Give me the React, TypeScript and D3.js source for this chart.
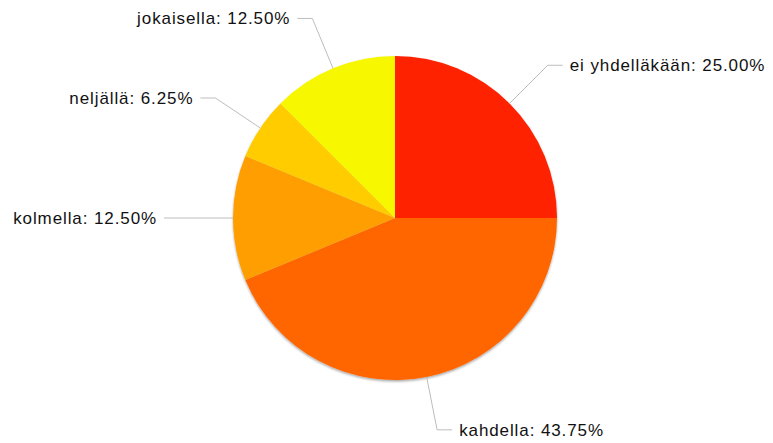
import React from "react";
import * as d3 from "d3";

const categories = ["ei yhdelläkään", "kahdella", "kolmella", "neljällä", "jokaisella"];
const values = [25.0, 43.75, 12.5, 6.25, 12.5];
const colors = ["#ff2200", "#ff6600", "#ff9e00", "#ffcc00", "#f7f700"];

const W = 773;
const H = 443;
const CX = 395;
const CY = 218;
const R = 162;
const LR = 216;
const HLEN = 15;
const GAP = 7;

export default function App() {
  const pie = d3.pie<number>().sort(null).value((d) => d)(values);
  const arc = d3.arc<d3.PieArcDatum<number>>().innerRadius(0).outerRadius(R);
  const total = d3.sum(values);

  return (
    <svg
      width={W}
      height={H}
      style={{ position: "absolute", left: 0, top: 0, background: "#fff" }}
      fontFamily="'Liberation Sans', Arial, sans-serif"
    >
      <defs>
        <filter id="sh" x="-10%" y="-10%" width="120%" height="125%">
          <feDropShadow dx="0" dy="1.5" stdDeviation="1.2" floodColor="#000" floodOpacity="0.35" />
        </filter>
      </defs>
      <g transform={`translate(${CX},${CY})`}>
        <g filter="url(#sh)">
          {pie.map((p, i) => (
            <path key={i} d={arc(p) || ""} fill={colors[i]} />
          ))}
        </g>
        {pie.map((p, i) => {
          const mid = (p.startAngle + p.endAngle) / 2;
          const sx = Math.sin(mid);
          const sy = -Math.cos(mid);
          const right = sx >= 0;
          const x1 = sx * R;
          const y1 = sy * R;
          const x2 = sx * LR;
          const y2 = sy * LR;
          const x3 = x2 + (right ? HLEN : -HLEN);
          const tx = x3 + (right ? GAP : -GAP);
          const pct = ((values[i] / total) * 100).toFixed(2);
          return (
            <g key={"l" + i}>
              <polyline
                points={`${x1},${y1} ${x2},${y2} ${x3},${y2}`}
                fill="none"
                stroke="#bdbdbd"
                strokeWidth={1}
              />
              <text
                x={tx}
                y={y2}
                dy="0.35em"
                textAnchor={right ? "start" : "end"}
                fontSize={17}
                letterSpacing={0.9}
                fill="#111"
              >
                {`${categories[i]}: ${pct}%`}
              </text>
            </g>
          );
        })}
      </g>
    </svg>
  );
}
